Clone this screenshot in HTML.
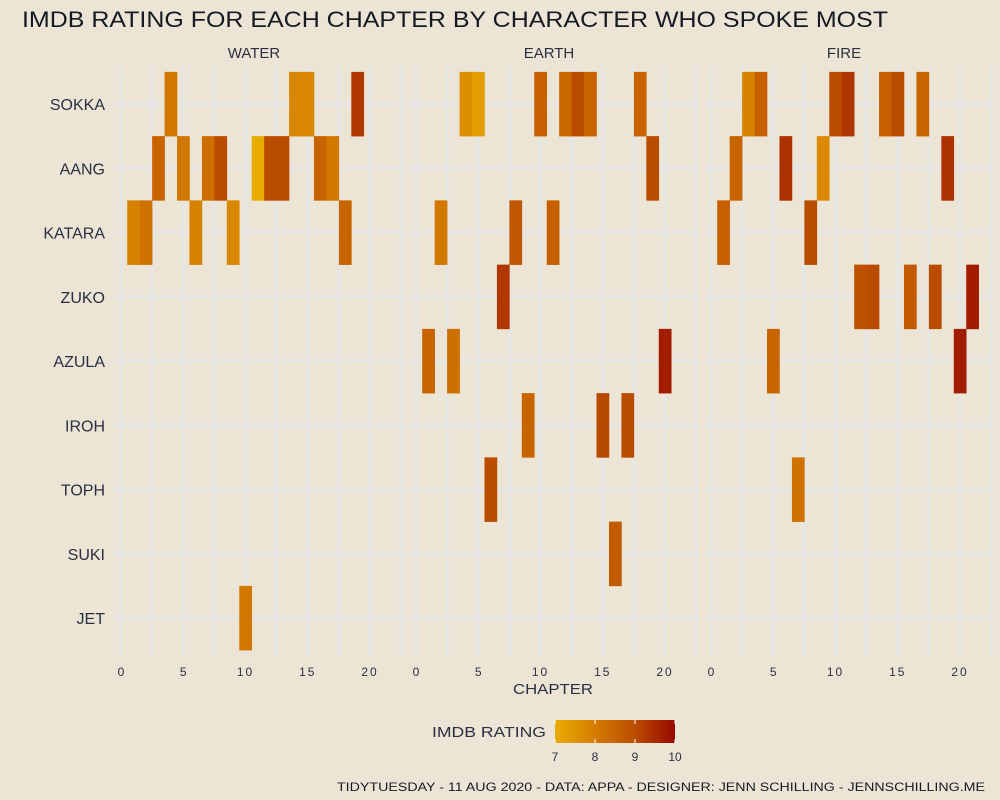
<!DOCTYPE html>
<html><head><meta charset="utf-8"><style>
html,body{margin:0;padding:0;background:#ece5d6;}
svg{display:block;font-family:"Liberation Sans",sans-serif;}
</style></head><body>
<svg id="chart" width="1000" height="800">
<defs><linearGradient id="lg" x1="0" x2="1" y1="0" y2="0">
<stop offset="0" stop-color="#e8ac00"/><stop offset="0.333" stop-color="#d57c00"/><stop offset="0.667" stop-color="#ba4c00"/><stop offset="1" stop-color="#980800"/></linearGradient></defs>
<rect width="1000" height="800" fill="#ece5d6"/>
<text x="22" y="27" font-size="22" fill="#151a22" textLength="866" lengthAdjust="spacingAndGlyphs">IMDB RATING FOR EACH CHAPTER BY CHARACTER WHO SPOKE MOST</text>
<g id="plot"></g>
<text x="553" y="694" font-size="15" fill="#2a3040" text-anchor="middle" textLength="80" lengthAdjust="spacingAndGlyphs">CHAPTER</text>
<text x="432" y="737" font-size="15" fill="#2a3040" textLength="114" lengthAdjust="spacingAndGlyphs">IMDB RATING</text>
<rect x="555" y="720" width="120" height="23" fill="url(#lg)"/>
<g id="legend"></g>
<text x="985" y="791" font-size="12" fill="#151a22" text-anchor="end" textLength="648" lengthAdjust="spacingAndGlyphs">TIDYTUESDAY - 11 AUG 2020 - DATA: APPA - DESIGNER: JENN SCHILLING - JENNSCHILLING.ME</text>
</svg>
<script>
const books = ["WATER","EARTH","FIRE"];
const characters = ["SOKKA","AANG","KATARA","ZUKO","AZULA","IROH","TOPH","SUKI","JET"];
const xTicks = [0,5,10,15,20];
const legendTicks = [7,8,9,10];
// [book index, character index, chapter, rating]
const waterTiles = [[0,0,4,8.1],[0,0,14,7.8],[0,0,15,7.8],[0,0,19,9.3],
[0,1,3,8.5],[0,1,5,8.1],[0,1,7,8.3],[0,1,8,9.0],[0,1,11,7.0],[0,1,12,9.0],[0,1,13,9.0],[0,1,16,8.5],[0,1,17,8.1],
[0,2,1,7.9],[0,2,2,8.2],[0,2,6,7.9],[0,2,9,7.8],[0,2,18,8.5],[0,8,10,8.1]];
const earthTiles = [[1,0,4,7.6],[1,0,5,7.3],[1,0,10,8.6],[1,0,12,8.4],[1,0,13,9.0],[1,0,14,8.5],[1,0,18,8.5],
[1,1,19,9.0],[1,2,2,8.1],[1,2,8,8.8],[1,2,11,8.6],[1,3,7,9.3],
[1,4,1,8.5],[1,4,3,8.3],[1,4,20,9.7],[1,5,9,8.5],[1,5,15,9.05],[1,5,17,9.0],[1,6,6,9.0],[1,7,16,8.7]];
const fireTiles = [[2,0,3,7.9],[2,0,4,8.6],[2,0,10,9.0],[2,0,11,9.3],[2,0,14,8.6],[2,0,15,9.0],[2,0,17,8.5],
[2,1,2,8.5],[2,1,6,9.4],[2,1,9,7.7],[2,1,19,9.4],[2,2,1,8.6],[2,2,8,9.0],
[2,3,12,8.9],[2,3,13,9.0],[2,3,16,8.7],[2,3,18,9.0],[2,3,21,9.7],[2,4,5,8.5],[2,4,20,9.7],[2,6,7,8.2]];

const NS="http://www.w3.org/2000/svg";
const plot=document.getElementById('plot');
const panelX0=[121,416,711], unit=12.45, panelW=288, panelTop=66, panelBot=650, rowH=64.25, row0=104;
function xPos(b,ch){return panelX0[b]+ch*unit;}
function yPos(r){return row0+r*rowH;}
const stops=[[7,[232,172,0]],[8,[213,124,0]],[9,[186,76,0]],[10,[152,8,0]]];
function color(v){
  v=Math.max(7,Math.min(10,v));
  for(let i=0;i<3;i++){const a=stops[i],b=stops[i+1];
    if(v<=b[0]){const t=(v-a[0])/(b[0]-a[0]);const c=a[1].map((x,k)=>Math.round(x+(b[1][k]-x)*t));return `rgb(${c})`;}}
  return 'rgb(152,8,0)';
}
function mk(tag,attrs,parent){const e=document.createElementNS(NS,tag);for(const k in attrs)e.setAttribute(k,attrs[k]);(parent||plot).appendChild(e);return e;}
books.forEach((bk,b)=>{
  const left=panelX0[b]-7;
  for(let r=0;r<characters.length;r++){
    const l=mk('line',{x1:left,x2:left+panelW,y1:yPos(r),y2:yPos(r),stroke:'#e6e6e6','stroke-width':3});
    
    
  }
  for(let g=0;g<=22.5;g+=2.5){
    const l=mk('line',{x1:xPos(b,g),x2:xPos(b,g),y1:panelTop,y2:panelBot+6,stroke:'#e6e6e6','stroke-width':3});
    
    
  }
  const s=mk('text',{x:panelX0[b]+133,y:58,'font-size':15,fill:'#2a3040','text-anchor':'middle'});
  s.textContent=bk;
  
  
  xTicks.forEach(t=>{
    const tx=mk('text',{x:xPos(b,t),y:676,'font-size':12,fill:'#2a3040','text-anchor':'middle','letter-spacing':t>=10?2:0});
    tx.textContent=t;
    
    
  });
});
characters.forEach((c,r)=>{
  const t=mk('text',{x:105,y:yPos(r)+6,'font-size':16,fill:'#2a3040','text-anchor':'end'});
  t.textContent=c;
  
  
});
[].concat(waterTiles,earthTiles,fireTiles).forEach(d=>{
  const [b,r,ch,v]=d;
  const rc=mk('rect',{x:xPos(b,ch)-unit/2,y:yPos(r)-rowH/2,width:unit+0.3,height:rowH+0.3,fill:color(v)});
  
  
});
const lg=document.getElementById('legend');
legendTicks.forEach(v=>{
  const x=555+(v-7)/3*120;
  const ln=mk('line',{x1:x,x2:x,y1:720,y2:724,stroke:'#fff','stroke-width':1},lg);
  
  
  const ln2=mk('line',{x1:x,x2:x,y1:739,y2:743,stroke:'#fff','stroke-width':1},lg);
  
  
  const t=mk('text',{x:x,y:761,'font-size':12,fill:'#2a3040','text-anchor':'middle'},lg);
  t.textContent=v;
  
  
});
</script>
</body></html>
